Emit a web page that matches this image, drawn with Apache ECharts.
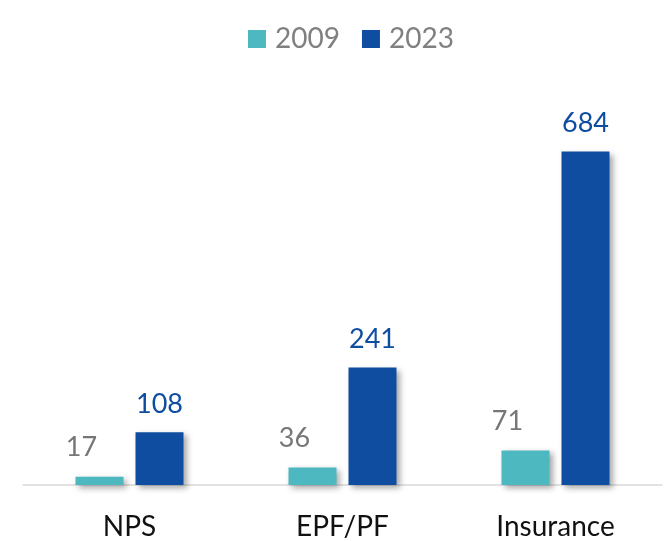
<!DOCTYPE html>
<html>
<head>
<meta charset="utf-8">
<script src="https://cdn.jsdelivr.net/npm/echarts@6/dist/echarts.min.js"></script>
<style>
    html, body { margin: 0; padding: 0; background: #fff; }
    #chart { width: 666px; height: 541px; }
</style>
</head>
<body>
<div id="chart"></div>
<script>
// data
const categories = ["NPS", "EPF/PF", "Insurance"];
const seriesNames = ["2009", "2023"];
const values2009 = [17, 36, 71];
const values2023 = [108, 241, 684];

const barShadow = {
    shadowColor: "rgba(0,0,0,0.35)",
    shadowBlur: 6,
    shadowOffsetX: 3,
    shadowOffsetY: 3
};

const myChart = echarts.init(document.getElementById("chart"));
const option = {
    animation: false,
    legend: {
        show: true,
        left: 243,
        top: 20,
        icon: "rect",
        itemWidth: 18,
        itemHeight: 18,
        itemGap: 22,
        textStyle: {
            color: "#808080",
            fontFamily: "Lato",
            fontSize: 28,
            padding: [0, 0, 0, 4]
        },
        data: seriesNames
    },
    grid: {
        left: 23,
        right: 4,
        top: 95,
        bottom: 56,
        containLabel: false
    },
    xAxis: {
        type: "category",
        data: categories,
        axisLine: {
            show: true,
            lineStyle: { color: "#D9D9D9", width: 1.5 }
        },
        axisTick: { show: false },
        axisLabel: {
            color: "#111",
            fontFamily: "Lato",
            fontSize: 28,
            margin: 28
        }
    },
    yAxis: {
        type: "value",
        min: 0,
        max: 800,
        show: false,
        splitLine: { show: false }
    },
    series: [
        {
            name: seriesNames[0],
            type: "bar",
            data: values2009,
            barWidth: 48,
            barGap: "25%",
            itemStyle: Object.assign({ color: "#4DB8BF" }, barShadow),
            label: {
                show: true,
                position: "top",
                distance: 16,
                offset: [-18, 0],
                color: "#767676",
                fontFamily: "Lato",
                fontSize: 27
            }
        },
        {
            name: seriesNames[1],
            type: "bar",
            data: values2023,
            barWidth: 48,
            itemStyle: Object.assign({ color: "#0E4DA0" }, barShadow),
            label: {
                show: true,
                position: "top",
                distance: 15,
                color: "#0E4DA0",
                fontFamily: "Lato",
                fontSize: 27
            }
        }
    ]
};
myChart.setOption(option);
</script>
</body>
</html>
